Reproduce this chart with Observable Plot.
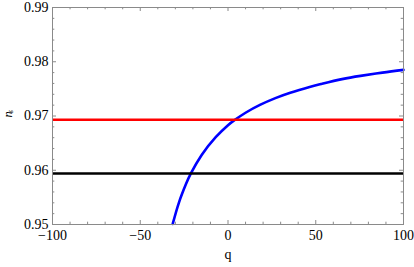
<!DOCTYPE html>
<html><head><meta charset="utf-8">
<script src="https://cdn.jsdelivr.net/npm/d3@7"></script>
<script src="https://cdn.jsdelivr.net/npm/@observablehq/plot@0.6"></script>
<style>
body{margin:0;background:#fff}
#chart svg, #chart svg text{font-family:"Liberation Serif","Times New Roman",serif !important;}
</style>
</head><body><div id="chart"></div>
<script>
// Blue curve n_s(q)
const qValues  = [-31.5, -28, -24, -21, -15, -7, 0, 3.5, 10, 18.5, 27, 35.5, 47, 53, 65, 75.5, 88, 100];
const nsValues = [0.9501, 0.9540, 0.9574, 0.9595, 0.9628, 0.9661, 0.9683, 0.9692, 0.9706, 0.9721, 0.9733, 0.9743, 0.9754, 0.9759, 0.9768, 0.9774, 0.9780, 0.9785];
// Horizontal reference levels
const redLevel = [0.9693];
const blackLevel = [0.9594];
// Ticks
const xMajorTicks = [-100, -50, 0, 50, 100];
const xMinorTicks = [-90, -80, -70, -60, -40, -30, -20, -10, 10, 20, 30, 40, 60, 70, 80, 90];
const yMajorTicks = [0.95, 0.96, 0.97, 0.98, 0.99];
const yMinorTicks = [0.952, 0.954, 0.956, 0.958, 0.962, 0.964, 0.966, 0.968, 0.972, 0.974, 0.976, 0.978, 0.982, 0.984, 0.986, 0.988];
const xLabel = "q";

const W = 414, H = 267, mL = 52, mR = 11, mT = 7, mB = 43;
const iW = W - mL - mR, iH = H - mT - mB;
const curve = qValues.map((q, i) => ({q, ns: nsValues[i]}));
const frameColor = "#8a8a8a";
const maj = 4, mn = 2.3;

const chart = Plot.plot({
  width: W, height: H,
  marginLeft: mL, marginRight: mR, marginTop: mT, marginBottom: mB,
  style: {fontFamily: "'Liberation Serif', serif", fontSize: "14px", background: "#fff", color: "#000"},
  x: {domain: [-100, 100]},
  y: {domain: [0.95, 0.99]},
  marks: [
    Plot.line(curve, {x: "q", y: "ns", stroke: "#0000ff", strokeWidth: 2.6, curve: "natural"}),
    Plot.ruleY(redLevel, {y: d => d, stroke: "#ff0000", strokeWidth: 2.6}),
    Plot.ruleY(blackLevel, {y: d => d, stroke: "#000", strokeWidth: 2.6}),
    // inward ticks
    Plot.tickX(xMajorTicks, {x: d => d, stroke: frameColor, insetTop: iH - maj}),
    Plot.tickX(xMajorTicks, {x: d => d, stroke: frameColor, insetBottom: iH - maj}),
    Plot.tickX(xMinorTicks, {x: d => d, stroke: frameColor, insetTop: iH - mn}),
    Plot.tickX(xMinorTicks, {x: d => d, stroke: frameColor, insetBottom: iH - mn}),
    Plot.tickY(yMajorTicks, {y: d => d, stroke: frameColor, insetRight: iW - maj}),
    Plot.tickY(yMajorTicks, {y: d => d, stroke: frameColor, insetLeft: iW - maj}),
    Plot.tickY(yMinorTicks, {y: d => d, stroke: frameColor, insetRight: iW - mn}),
    Plot.tickY(yMinorTicks, {y: d => d, stroke: frameColor, insetLeft: iW - mn}),
    Plot.frame({stroke: frameColor}),
    Plot.axisX({ticks: xMajorTicks, tickSize: 0, tickPadding: 6, label: null, fontSize: 14}),
    Plot.axisY({ticks: yMajorTicks, tickSize: 0, tickPadding: 4, label: null, tickFormat: d3.format(".2f"), fontSize: 14}),
    Plot.text([xLabel], {text: d => d, frameAnchor: "bottom", dy: 34.5, fontSize: 14}),
    Plot.text(["n"], {text: d => d, frameAnchor: "left", rotate: -90, dx: -45, dy: 1.5, fontStyle: "italic", fontSize: 12.5}),
    Plot.text(["s"], {text: d => d, frameAnchor: "left", rotate: -90, dx: -41.5, dy: -3, fontStyle: "italic", fontSize: 7.5})
  ]
});
document.getElementById("chart").appendChild(chart);
</script>
</body></html>
